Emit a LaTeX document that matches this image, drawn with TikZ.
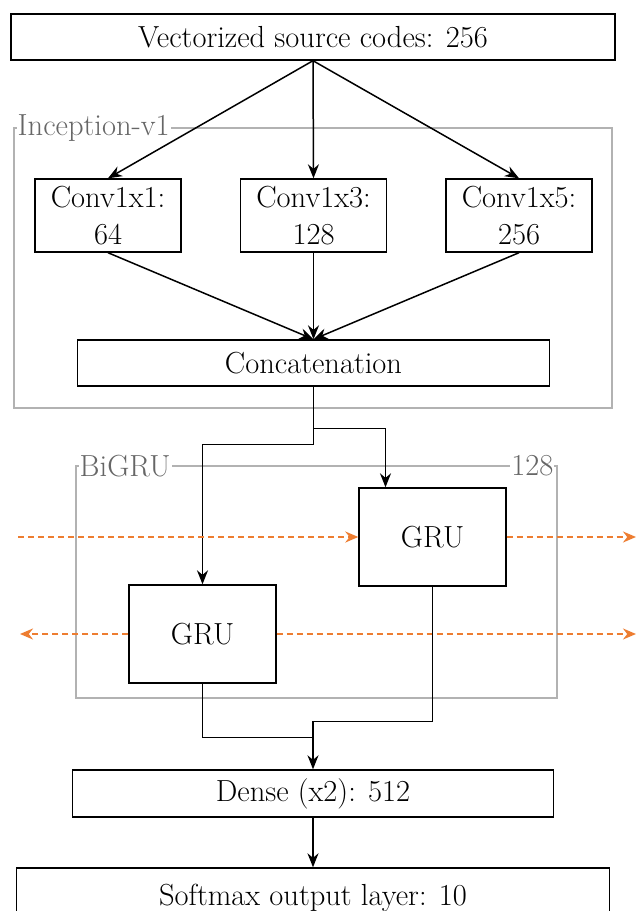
\documentclass[tikz,border=0pt]{standalone}
\usetikzlibrary{arrows.meta,calc}
\definecolor{rnnorange}{RGB}{237,125,49}

\begin{document}
\begin{tikzpicture}[x=1pt,y=-1pt,
  every node/.style={draw,line width=1.4pt,align=center,inner sep=0pt,font=\fontsize{30.5}{37}\selectfont},
  lbl/.style={draw=none,fill=white,text=black!60,inner sep=1pt},
  frame/.style={draw=black!30,line width=2.5pt},
  arr/.style={-{Stealth[length=14pt,width=11pt]},line width=1.5pt},
  link/.style={line width=1.5pt},
  rnn/.style={-{Stealth[length=13pt,width=11pt]},draw=rnnorange,line width=2pt,dash pattern=on 6pt off 4pt}]
      \useasboundingbox (0,0) rectangle (637,911);
      \node[minimum width=604pt,minimum height=46pt] (src) at (313,37) {Vectorized source codes: 256};
      % inception block
      \draw[frame] (14,128) rectangle (612,408);
      \node[lbl,anchor=west] (inc) at (16,128) {Inception-v1};
      \node[minimum width=146pt,minimum height=73pt] (c1) at (108,215.5) {Conv1x1:\\64};
      \node[minimum width=146pt,minimum height=73pt] (c3) at (313.5,215.5) {Conv1x3:\\128};
      \node[minimum width=146pt,minimum height=73pt] (c5) at (519,215.5) {Conv1x5:\\256};
      \node[minimum width=472pt,minimum height=46pt] (cat) at (313.5,363) {Concatenation};
      \draw[arr] (src.south) -- (c1.north);
      \draw[arr] (src.south) -- (c3.north);
      \draw[arr] (src.south) -- (c5.north);
      \draw[arr] (c1.south) -- (cat.north);
      \draw[arr] (c3.south) -- (cat.north);
      \draw[arr] (c5.south) -- (cat.north);
      % bigru block
      \draw[frame] (76,466) rectangle (557,698);
      \node[lbl,anchor=west] (bigru) at (78,466) {BiGRU};
      \node[lbl,anchor=east] (units) at (555,466) {128};
      \node[minimum width=147pt,minimum height=98pt] (gruf) at (432.5,537) {GRU};
      \node[minimum width=147pt,minimum height=98pt] (grub) at (202.5,634) {GRU};
      \draw[arr] (cat.south) -- ++(0,42) -| ([xshift=-47pt]gruf.north);
      \draw[arr] (cat.south) -- ++(0,58) -| (grub.north);
      \coordinate (fin) at (18,537);
      \coordinate (fout) at (636,537);
      \coordinate (bout) at (20,634);
      \coordinate (bnext) at (636,634);
      \draw[rnn] (fin) -- (gruf.west);
      \draw[rnn] (gruf.east) -- (fout);
      \draw[rnn] (grub.west) -- (bout);
      \draw[rnn] (grub.east) -- (bnext);
      % output layers
      \node[minimum width=481pt,minimum height=47pt] (dense) at (313,793.5) {Dense (x2): 512};
      \node[minimum width=593pt,minimum height=60pt] (soft) at (313,898) {Softmax output layer: 10};
      \draw[link] (grub.south) |- ([yshift=32pt]dense.north);
      \draw[arr] (gruf.south) |- ([yshift=48pt]dense.north) -- (dense.north);
      \draw[arr] (dense.south) -- (soft.north);
    \end{tikzpicture}
\end{document}
